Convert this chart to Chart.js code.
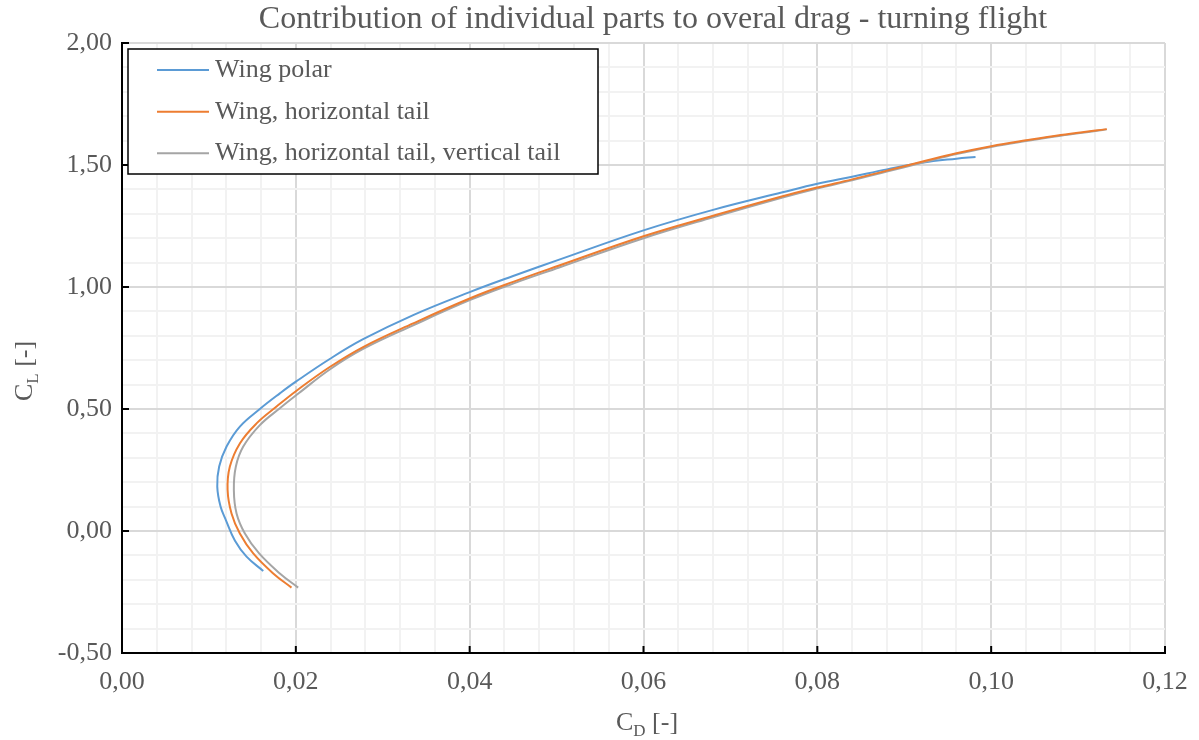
<!DOCTYPE html>
<html>
<head>
<meta charset="utf-8">
<script src="https://cdn.jsdelivr.net/npm/chart.js@4"></script>
<style>
  html, body { margin: 0; padding: 0; background: #fff; }
  #wrap { width: 1199px; height: 740px; position: relative; }
</style>
</head>
<body>
<div id="wrap"><canvas id="dragChart"></canvas></div>
<script>
const chartTitle = 'Contribution of individual parts to overal drag - turning flight';
const seriesNames = ['Wing polar', 'Wing, horizontal tail', 'Wing, horizontal tail, vertical tail'];
const seriesColors = ['#5b9bd5', '#ed7d31', '#a5a5a5'];

// Wing polar
const wingCd = [0.01625, 0.01433, 0.0130, 0.01195, 0.01134, 0.01096, 0.01118, 0.01203, 0.01356, 0.01586, 0.01816, 0.0200, 0.0239, 0.02774, 0.0335, 0.0400, 0.0450, 0.0503, 0.0600, 0.0680, 0.0760, 0.0800, 0.0840, 0.0880, 0.0920, 0.0960, 0.0982];
const wingCl = [-0.164, -0.105, -0.040, 0.045, 0.100, 0.182, 0.264, 0.346, 0.428, 0.500, 0.564, 0.612, 0.705, 0.786, 0.885, 0.979, 1.045, 1.112, 1.232, 1.316, 1.388, 1.423, 1.452, 1.482, 1.509, 1.526, 1.533];

// Wing + horizontal tail
const htCd = [0.0195, 0.0174, 0.0151, 0.01356, 0.0126, 0.01215, 0.01241, 0.01356, 0.01548, 0.01778, 0.02008, 0.0239, 0.02774, 0.0335, 0.0400, 0.0450, 0.0503, 0.0600, 0.0680, 0.0760, 0.0800, 0.0840, 0.0880, 0.0920, 0.0960, 0.1000, 0.1040, 0.1080, 0.1120, 0.1133];
const htCl = [-0.232, -0.174, -0.092, -0.010, 0.072, 0.168, 0.264, 0.359, 0.441, 0.510, 0.575, 0.672, 0.754, 0.851, 0.953, 1.021, 1.088, 1.208, 1.292, 1.372, 1.408, 1.441, 1.477, 1.513, 1.548, 1.577, 1.601, 1.623, 1.641, 1.647];

// Wing + horizontal tail + vertical tail
const vtCd = [0.02027, 0.01816, 0.01578, 0.01414, 0.01318, 0.01287, 0.0131, 0.01395, 0.01586, 0.01816, 0.02046, 0.0239, 0.02774, 0.0335, 0.0400, 0.0450, 0.0503, 0.0600, 0.0680, 0.0760, 0.0800, 0.0840, 0.0880, 0.0920, 0.0960, 0.1000, 0.1040, 0.1080, 0.1120, 0.1133];
const vtCl = [-0.232, -0.174, -0.092, -0.010, 0.072, 0.168, 0.264, 0.346, 0.434, 0.503, 0.568, 0.662, 0.746, 0.843, 0.946, 1.014, 1.080, 1.200, 1.286, 1.367, 1.404, 1.437, 1.473, 1.509, 1.545, 1.574, 1.598, 1.620, 1.639, 1.646];

const xMajor = [0, 0.02, 0.04, 0.06, 0.08, 0.10, 0.12];
const yMajor = [-0.5, 0, 0.5, 1.0, 1.5, 2.0];

const serif = "'Liberation Serif', 'Times New Roman', serif";
const textGray = '#595959';

function toPoints(xs, ys) {
  return xs.map((x, i) => ({ x: x, y: ys[i] }));
}

function isMajor(v, list) {
  return list.some(m => Math.abs(v - m) < 1e-7);
}

function fmt(v) {
  return v.toFixed(2).replace('.', ',');
}

function drawSubText(ctx, main, sub, rest, cx, base) {
  ctx.font = '26px ' + serif;
  const w1 = ctx.measureText(main).width;
  const w3 = ctx.measureText(rest).width;
  ctx.font = '17px ' + serif;
  const w2 = ctx.measureText(sub).width;
  let x = cx - (w1 + w2 + w3) / 2;
  ctx.textAlign = 'left';
  ctx.textBaseline = 'alphabetic';
  ctx.font = '26px ' + serif;
  ctx.fillText(main, x, base);
  x += w1;
  ctx.font = '17px ' + serif;
  ctx.fillText(sub, x, base + 6);
  x += w2;
  ctx.font = '26px ' + serif;
  ctx.fillText(rest, x, base);
}

const decorations = {
  id: 'decorations',
  afterDraw(chart) {
    const { ctx, chartArea: a, scales: { x, y } } = chart;
    ctx.save();

    // tick marks on the inside
    ctx.strokeStyle = '#000';
    ctx.lineWidth = 2;
    xMajor.forEach(v => {
      const px = x.getPixelForValue(v);
      ctx.beginPath();
      ctx.moveTo(px, a.bottom);
      ctx.lineTo(px, a.bottom - 7);
      ctx.stroke();
    });
    yMajor.forEach(v => {
      const py = y.getPixelForValue(v);
      ctx.beginPath();
      ctx.moveTo(a.left, py);
      ctx.lineTo(a.left + 7, py);
      ctx.stroke();
    });

    // title
    ctx.fillStyle = textGray;
    ctx.font = '32px ' + serif;
    ctx.textAlign = 'center';
    ctx.textBaseline = 'alphabetic';
    ctx.fillText(chartTitle, 653, 28);

    // axis titles
    drawSubText(ctx, 'C', 'D', ' [-]', 647, 730);
    ctx.save();
    ctx.translate(32, 371);
    ctx.rotate(-Math.PI / 2);
    drawSubText(ctx, 'C', 'L', ' [-]', 0, 0);
    ctx.restore();

    // legend
    ctx.fillStyle = '#fff';
    ctx.fillRect(128, 49, 470, 125);
    ctx.strokeStyle = '#000';
    ctx.lineWidth = 1.5;
    ctx.strokeRect(128, 49, 470, 125);
    const rows = [70, 111.7, 153.3];
    chart.data.datasets.forEach((ds, i) => {
      ctx.strokeStyle = ds.borderColor;
      ctx.lineWidth = 2;
      ctx.beginPath();
      ctx.moveTo(157, rows[i]);
      ctx.lineTo(209, rows[i]);
      ctx.stroke();
      ctx.fillStyle = textGray;
      ctx.font = '26px ' + serif;
      ctx.textAlign = 'left';
      ctx.textBaseline = 'middle';
      ctx.fillText(ds.label, 215, rows[i]);
    });

    ctx.restore();
  }
};

const lineSets = [toPoints(wingCd, wingCl), toPoints(htCd, htCl), toPoints(vtCd, vtCl)];
const drawOrder = [2, 0, 1];

new Chart(document.getElementById('dragChart'), {
  type: 'scatter',
  data: {
    datasets: lineSets.map((pts, i) => ({
      label: seriesNames[i],
      data: pts,
      showLine: true,
      borderColor: seriesColors[i],
      backgroundColor: seriesColors[i],
      borderWidth: 2,
      pointRadius: 0,
      tension: 0.4,
      order: drawOrder[i]
    }))
  },
  options: {
    responsive: true,
    maintainAspectRatio: false,
    animation: false,
    layout: { padding: { top: 43, right: 34, left: 0, bottom: 0 } },
    plugins: {
      legend: { display: false },
      title: { display: false },
      tooltip: { enabled: false }
    },
    scales: {
      x: {
        type: 'linear',
        min: 0,
        max: 0.12,
        ticks: {
          stepSize: 0.004,
          autoSkip: false,
          maxRotation: 0,
          padding: 14,
          color: textGray,
          font: { family: serif, size: 26 },
          callback: v => isMajor(v, xMajor) ? fmt(v) : ''
        },
        grid: {
          drawTicks: false,
          lineWidth: 2,
          color: c => isMajor(c.tick.value, xMajor) ? '#d9d9d9' : '#f2f2f2'
        },
        border: { color: '#000', width: 2 },
        afterFit: s => { s.height = 87; s.paddingLeft = 0; s.paddingRight = 0; }
      },
      y: {
        type: 'linear',
        min: -0.5,
        max: 2.0,
        ticks: {
          stepSize: 0.1,
          autoSkip: false,
          padding: 10,
          color: textGray,
          font: { family: serif, size: 26 },
          callback: v => isMajor(v, yMajor) ? fmt(v) : ''
        },
        grid: {
          drawTicks: false,
          lineWidth: 2,
          color: c => isMajor(c.tick.value, yMajor) ? '#d9d9d9' : '#f2f2f2'
        },
        border: { color: '#000', width: 2 },
        afterFit: s => { s.width = 122; s.paddingTop = 0; s.paddingBottom = 0; }
      }
    }
  },
  plugins: [decorations]
});
</script>
</body>
</html>
